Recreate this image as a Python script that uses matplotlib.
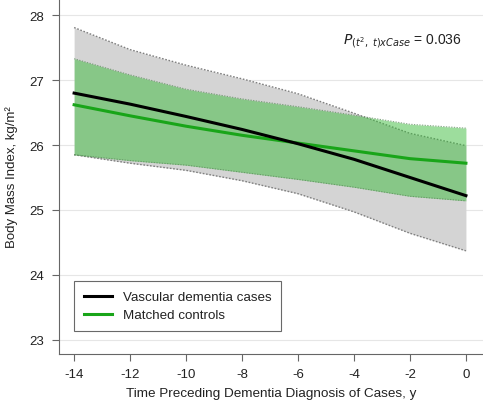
import matplotlib
matplotlib.use("Agg")
import matplotlib.pyplot as plt
import numpy as np

plt.rcParams['font.family'] = ['Liberation Sans', 'DejaVu Sans']

years = [-14, -12, -10, -8, -6, -4, -2, 0]
cases_mean = [26.80, 26.63, 26.44, 26.24, 26.02, 25.78, 25.50, 25.22]
cases_upper = [27.81, 27.47, 27.23, 27.02, 26.79, 26.49, 26.18, 25.99]
cases_lower = [25.85, 25.72, 25.61, 25.45, 25.25, 24.97, 24.64, 24.37]
ctrl_mean = [26.62, 26.45, 26.29, 26.15, 26.03, 25.91, 25.79, 25.72]
ctrl_upper = [27.33, 27.08, 26.86, 26.71, 26.59, 26.46, 26.32, 26.26]
ctrl_lower = [25.85, 25.76, 25.69, 25.58, 25.47, 25.35, 25.21, 25.14]
xticks = [-14, -12, -10, -8, -6, -4, -2, 0]
yticks = [23, 24, 25, 26, 27, 28]

fig = plt.figure(figsize=(4.83, 4.06), dpi=100)
ax = fig.add_axes([59/483, 1-355/406, (483-59)/483, 355/406])

ax.set_xlim(-14.54, 0.61)
ax.set_ylim(22.78, 28.25)

for y in yticks:
    ax.axhline(y, color='#e6e6e6', lw=0.8, zorder=0)

ax.fill_between(years, cases_lower, cases_upper, color='#d4d4d4', lw=0, zorder=1)
ax.plot(years, cases_upper, color='#808080', ls=(0, (1.2, 1.2)), lw=1.0, zorder=2)
ax.plot(years, cases_lower, color='#808080', ls=(0, (1.2, 1.2)), lw=1.0, zorder=2)
ax.fill_between(years, ctrl_lower, ctrl_upper, color='#3cbc3c', alpha=0.5, lw=0, zorder=3)
ax.plot(years, ctrl_upper, color='#5a8a5a', ls=(0, (1.2, 1.2)), lw=0.8, alpha=0.7, zorder=4)
ax.plot(years, ctrl_lower, color='#5a8a5a', ls=(0, (1.2, 1.2)), lw=0.8, alpha=0.7, zorder=4)

ax.plot(years, cases_mean, color='black', lw=2.2, zorder=6, label='Vascular dementia cases')
ax.plot(years, ctrl_mean, color='#19a519', lw=2.2, zorder=5, label='Matched controls')

ax.set_xticks(xticks)
ax.set_xticklabels([str(t) for t in xticks])
ax.set_yticks(yticks)
ax.tick_params(axis='both', direction='out', length=5, width=0.8, color='#666666',
               labelsize=9.5, labelcolor='#222222')
ax.tick_params(axis='y', pad=6)
ax.tick_params(axis='x', pad=5)
for s in ['top', 'right']:
    ax.spines[s].set_visible(False)
for s in ['left', 'bottom']:
    ax.spines[s].set_color('#666666')
    ax.spines[s].set_linewidth(0.8)

ax.set_xlabel('Time Preceding Dementia Diagnosis of Cases, y', fontsize=9.7, color='#222222', labelpad=5)
ax.set_ylabel('Body Mass Index, kg/m²', fontsize=9.5, color='#222222', labelpad=8)

leg = ax.legend(loc='upper left', bbox_to_anchor=((74-59)/424, (355-282)/355),
                frameon=True, fancybox=False, fontsize=9.6, handlelength=2.1,
                borderpad=0.75, labelspacing=0.42, borderaxespad=0, handletextpad=0.8)
leg.get_frame().set_edgecolor('#444444')
leg.get_frame().set_linewidth(0.8)
for t in leg.get_texts():
    t.set_color('#222222')

ax.text(0.95, 0.885, r'$\mathit{P}_{\mathit{(t^2,\ t)xCase}}$ = 0.036', transform=ax.transAxes,
        ha='right', va='center', fontsize=10, color='#222222')

fig.savefig('out.png', dpi=100)
